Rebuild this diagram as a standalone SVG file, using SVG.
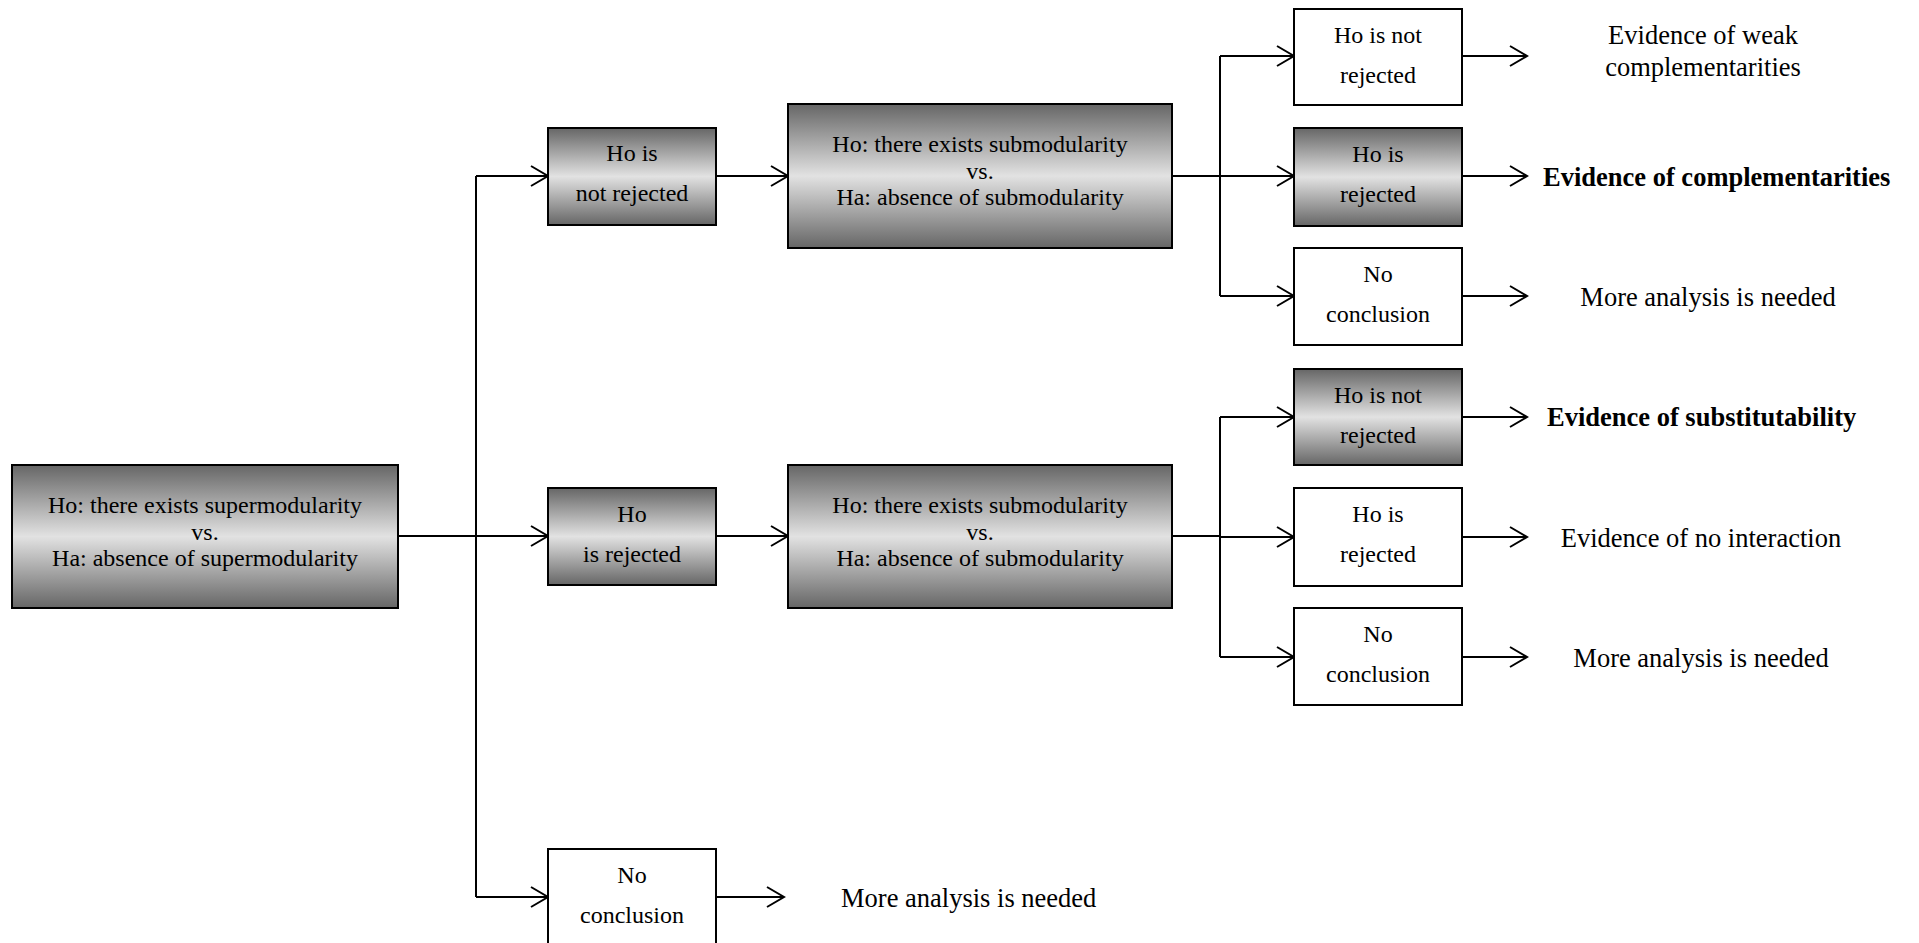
<svg xmlns="http://www.w3.org/2000/svg" width="1919" height="943" viewBox="0 0 1919 943">
<defs>
<linearGradient id="grad" x1="0" y1="0" x2="0" y2="1">
<stop offset="0" stop-color="#666"/>
<stop offset="0.5" stop-color="#e2e2e2"/>
<stop offset="1" stop-color="#666"/>
</linearGradient>
<marker id="arr" markerUnits="userSpaceOnUse" markerWidth="20" markerHeight="24" refX="18" refY="12" orient="auto">
<path d="M1,2 L18,12 L1,22" fill="none" stroke="#000" stroke-width="2"/>
</marker>
<style>
.g{fill:url(#grad);stroke:#000;stroke-width:2}
.w{fill:#fff;stroke:#000;stroke-width:2}
text{font-family:"Liberation Serif","Times New Roman",serif;font-size:24px;text-anchor:middle;fill:#000}
.o{font-size:26.5px}
.b{font-size:26.5px;font-weight:bold;text-anchor:start}
.s{font-size:26.5px;text-anchor:start}
.c{fill:none;stroke:#000;stroke-width:2}
.a{fill:none;stroke:#000;stroke-width:2;marker-end:url(#arr)}
</style>
</defs>
<rect width="1919" height="943" fill="#fff"/>
<g id="connectors">
<path class="a" d="M398,536 H548"/>
<path class="c" d="M476,176 V897"/>
<path class="a" d="M476,176 H548"/>
<path class="a" d="M476,897 H548"/>
<path class="a" d="M716,176 H788"/>
<path class="a" d="M716,536 H788"/>
<path class="a" d="M716,897 H784"/>
<path class="c" d="M1172,176 H1220"/>
<path class="c" d="M1220,56 V296"/>
<path class="a" d="M1220,56 H1294"/>
<path class="a" d="M1220,176 H1294"/>
<path class="a" d="M1220,296 H1294"/>
<path class="c" d="M1172,536 H1220"/>
<path class="c" d="M1220,417 V657"/>
<path class="a" d="M1220,417 H1294"/>
<path class="a" d="M1220,537 H1294"/>
<path class="a" d="M1220,657 H1294"/>
<path class="a" d="M1462,56 H1527"/>
<path class="a" d="M1462,176 H1527"/>
<path class="a" d="M1462,296 H1527"/>
<path class="a" d="M1462,417 H1527"/>
<path class="a" d="M1462,537 H1527"/>
<path class="a" d="M1462,657 H1527"/>
</g>
<g id="n-main">
<rect class="g" x="12" y="465" width="386" height="143"/>
<text x="205" y="513">Ho: there exists supermodularity</text>
<text x="205" y="540">vs.</text>
<text x="205" y="566">Ha: absence of supermodularity</text>
</g>
<g id="n-notrej">
<rect class="g" x="548" y="128" width="168" height="97"/>
<text x="632" y="161">Ho is</text>
<text x="632" y="201">not rejected</text>
</g>
<g id="n-rej">
<rect class="g" x="548" y="488" width="168" height="97"/>
<text x="632" y="522">Ho</text>
<text x="632" y="562">is rejected</text>
</g>
<g id="n-nocon">
<rect class="w" x="548" y="849" width="168" height="100"/>
<text x="632" y="883">No</text>
<text x="632" y="923">conclusion</text>
</g>
<g id="n-sub1">
<rect class="g" x="788" y="104" width="384" height="144"/>
<text x="980" y="152">Ho: there exists submodularity</text>
<text x="980" y="179">vs.</text>
<text x="980" y="205">Ha: absence of submodularity</text>
</g>
<g id="n-sub2">
<rect class="g" x="788" y="465" width="384" height="143"/>
<text x="980" y="513">Ho: there exists submodularity</text>
<text x="980" y="540">vs.</text>
<text x="980" y="566">Ha: absence of submodularity</text>
</g>
<g id="n-r1">
<rect class="w" x="1294" y="9" width="168" height="96"/>
<text x="1378" y="43">Ho is not</text>
<text x="1378" y="83">rejected</text>
</g>
<g id="n-r2">
<rect class="g" x="1294" y="128" width="168" height="98"/>
<text x="1378" y="162">Ho is</text>
<text x="1378" y="202">rejected</text>
</g>
<g id="n-r3">
<rect class="w" x="1294" y="248" width="168" height="97"/>
<text x="1378" y="282">No</text>
<text x="1378" y="322">conclusion</text>
</g>
<g id="n-r4">
<rect class="g" x="1294" y="369" width="168" height="96"/>
<text x="1378" y="403">Ho is not</text>
<text x="1378" y="443">rejected</text>
</g>
<g id="n-r5">
<rect class="w" x="1294" y="488" width="168" height="98"/>
<text x="1378" y="522">Ho is</text>
<text x="1378" y="562">rejected</text>
</g>
<g id="n-r6">
<rect class="w" x="1294" y="608" width="168" height="97"/>
<text x="1378" y="642">No</text>
<text x="1378" y="682">conclusion</text>
</g>
<g id="n-o1">
<text class="o" x="1703" y="44">Evidence of weak</text>
<text class="o" x="1703" y="76">complementarities</text>
</g>
<g id="n-o2"><text class="b" x="1543" y="186">Evidence of complementarities</text></g>
<g id="n-o3"><text class="o" x="1708" y="306">More analysis is needed</text></g>
<g id="n-o4"><text class="b" x="1547" y="426">Evidence of substitutability</text></g>
<g id="n-o5"><text class="o" x="1701" y="547">Evidence of no interaction</text></g>
<g id="n-o6"><text class="o" x="1701" y="667">More analysis is needed</text></g>
<g id="n-o7"><text class="s" x="841" y="907">More analysis is needed</text></g>
</svg>
